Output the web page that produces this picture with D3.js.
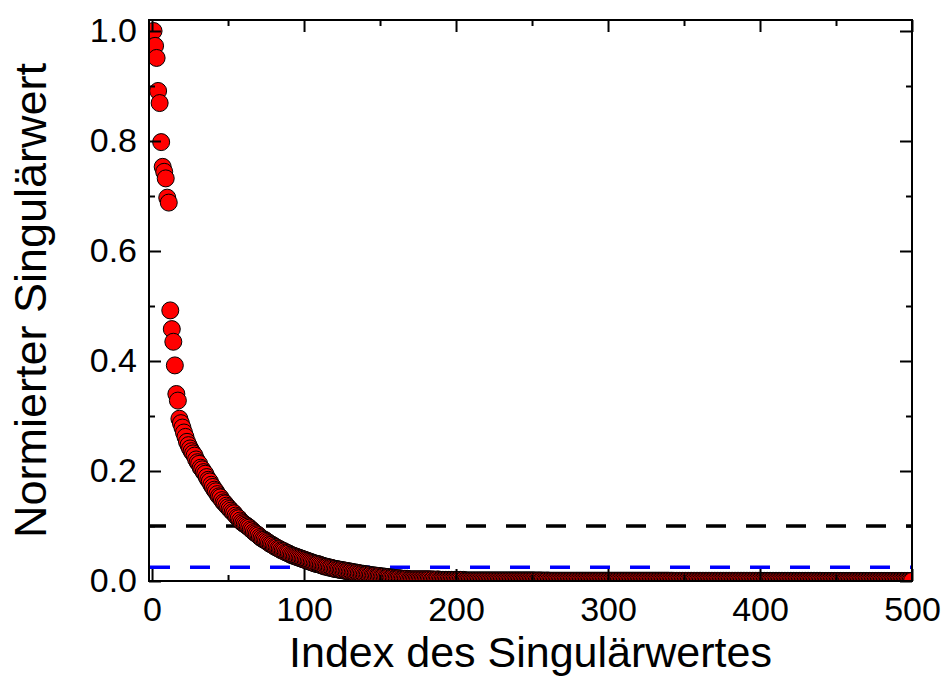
<!DOCTYPE html>
<html>
<head>
<meta charset="utf-8">
<script src="https://cdn.jsdelivr.net/npm/d3@7"></script>
<style>
  body { margin: 0; background: #fff; }
  text { font-family: "Liberation Sans", Arial, sans-serif; fill: #000; }
</style>
</head>
<body>
<svg id="chart"></svg>
<script>
// normalized singular values, in thousandths, index 1..500
let headVals = [1000, 973, 951, 891, 869, 798, 753, 744, 732, 697, 688, 492, 458, 435, 392, 340, 328, 295, 287, 279];
let midVals1 = [270, 262, 253, 247, 241, 236, 232, 228, 221, 216,
    213, 206, 203, 198, 195, 189, 184, 181, 175, 171,
    166, 163, 158, 154, 152, 147, 143, 141, 137, 134,
    131, 128, 125, 123, 119, 116, 114, 110, 107, 105];
let midVals2 = [103, 101, 99, 97, 94, 92, 89, 87, 85, 83,
    80, 78, 76, 75, 73, 71, 69, 67, 66, 64,
    62, 61, 59, 58, 56, 55, 54, 52, 51, 50,
    48, 47, 46, 45, 44, 43, 42, 41, 40, 39,
    38, 37, 36, 35, 34, 33, 32, 31, 31, 30];
let midVals3 = [29, 28, 27, 26, 26, 25, 24, 24, 23, 22,
    22, 21, 21, 20, 20, 19, 19, 18, 18, 17,
    17, 16, 16, 15, 15, 14, 14, 13, 13, 12,
    12, 12, 11, 11, 10, 10, 10, 9, 9, 9,
    8, 8, 8, 7, 7, 7, 6, 6, 6, 5,
    5, 5, 5, 4, 4, 4, 4, 4, 3, 3];
let tailVals1 = [3, 3, 3, 3, 3, 3, 3, 3, 3, 3,
    3, 3, 3, 2, 3, 2, 2, 3, 2, 2,
    2, 2, 2, 2, 2, 2, 2, 2, 2, 2,
    2, 2, 2, 1, 2, 1, 1, 1, 1, 1];
let tailVals2 = [1, 1, 1, 1, 1, 1, 1, 1, 1, 1,
    1, 1, 1, 1, 1, 1, 1, 1, 1, 1,
    1, 1, 1, 1, 1, 1, 1, 1, 1, 1,
    1, 1, 1, 1, 1, 1, 1, 1, 1, 1,
    1, 1, 0.5, 1, 1, 0.5, 1, 0.5, 0.5, 1,
    0.5, 0.5, 0.5, 0.5, 0.5, 0.5, 0.5, 0.5, 0.5, 0.5,
    0.5, 0.5, 0.5, 0.5, 0.5, 0.5, 0.5, 0.5, 0.5, 0.5,
    0.5, 0.5, 0.5, 0.5, 0.5, 0.5, 0.5, 0.5, 0.5, 0.5,
    0.5, 0.5, 0.5, 0.5, 0.5, 0.5, 0.5, 0.5, 0.5, 0.5,
    0.5, 0.5, 0.5, 0.5, 0.5, 0.5, 0.5, 0.5, 0.5, 0.5];
let tailVals3 = [0.5, 0.5, 0.5, 0.5, 0.5, 0.5, 0.5, 0.5, 0.5, 0.5,
    0.5, 0.5, 0.5, 0.5, 0.5, 0.5, 0.5, 0.5, 0.5, 0.5,
    0.5, 0.5, 0.5, 0.5, 0.5, 0.5, 0.5, 0.5, 0.5, 0.5,
    0.3, 0.5, 0.3, 0.3, 0.3, 0.3, 0.3, 0.3, 0.3, 0.3,
    0.3, 0.3, 0.3, 0.3, 0.3, 0.3, 0.3, 0.3, 0.3, 0.3,
    0.3, 0.3, 0.3, 0.3, 0.3, 0.3, 0.3, 0.3, 0.3, 0.3,
    0.3, 0.3, 0.3, 0.3, 0.3, 0.3, 0.3, 0.3, 0.3, 0.3,
    0.3, 0.3, 0.3, 0.3, 0.3, 0.3, 0.3, 0.3, 0.3, 0.3,
    0.3, 0.3, 0.3, 0.3, 0.3, 0.3, 0.3, 0.3, 0.3, 0.3,
    0.2, 0.2, 0.2, 0.2, 0.2, 0.2, 0.2, 0.2, 0.2, 0.2];
let tailVals4 = [0.2, 0.2, 0.2, 0.2, 0.2, 0.2, 0.2, 0.2, 0.2, 0.2,
    0.2, 0.2, 0.2, 0.2, 0.2, 0.2, 0.2, 0.2, 0.2, 0.2,
    0.2, 0.2, 0.2, 0.2, 0.2, 0.2, 0.2, 0.2, 0.2, 0.2,
    0.1, 0.1, 0.1, 0.1, 0.1, 0.1, 0.1, 0.1, 0.1, 0.1,
    0.1, 0.1, 0.1, 0.1, 0.1, 0.1, 0.1, 0.1, 0.1, 0.1,
    0.1, 0.1, 0.1, 0.1, 0.1, 0.1, 0.1, 0.1, 0.1, 0.1,
    0.1, 0.1, 0.1, 0.1, 0.1, 0.1, 0.1, 0.1, 0.1, 0.1,
    0.1, 0.1, 0.1, 0.1, 0.1, 0.1, 0.1, 0.1, 0.1, 0.1,
    0.1, 0.1, 0.1, 0.1, 0.1, 0.1, 0.1, 0.1, 0.1, 0.1];

// threshold lines
let thresholds = [{ value: 0.1, color: "#000000", offset: 3 }, { value: 0.025, color: "#0000ff", offset: 39 }];

let xMajor = [0, 100, 200, 300, 400, 500];
let xMinor = [50, 150, 250, 350, 450];
let yMajor = [0, 0.2, 0.4, 0.6, 0.8, 1.0];
let yMinor = [0.1, 0.3, 0.5, 0.7, 0.9];

let allVals = [].concat(headVals, midVals1, midVals2, midVals3, tailVals1, tailVals2, tailVals3, tailVals4);
let points = allVals.map(function (v, i) { return { index: i + 1, value: v / 1000 }; });

let width = 944, height = 689;
let margin = { left: 149, right: 32, top: 20, bottom: 108 };

let svg = d3.select("#chart").attr("width", width).attr("height", height);

let x = d3.scaleLinear().domain([-2, 500]).range([margin.left, width - margin.right]);
let y = d3.scaleLinear().domain([0, 1.02]).range([height - margin.bottom, margin.top]);

let x0 = x.range()[0], x1 = x.range()[1];
let yBottom = y.range()[0], yTop = y.range()[1];

svg.append("clipPath").attr("id", "plotClip")
    .append("rect")
    .attr("x", x0).attr("y", yTop)
    .attr("width", x1 - x0).attr("height", yBottom - yTop);

// dashed threshold lines
svg.append("g").attr("clip-path", "url(#plotClip)")
    .selectAll("line").data(thresholds).enter()
    .append("line")
    .attr("x1", x0).attr("x2", x1)
    .attr("y1", function (d) { return y(d.value); })
    .attr("y2", function (d) { return y(d.value); })
    .attr("stroke", function (d) { return d.color; })
    .attr("stroke-width", 3.5)
    .attr("stroke-dasharray", "20,20")
    .attr("stroke-dashoffset", function (d) { return d.offset; });

// markers
svg.append("g").attr("clip-path", "url(#plotClip)")
    .selectAll("circle").data(points).enter()
    .append("circle")
    .attr("cx", function (d) { return x(d.index); })
    .attr("cy", function (d) { return y(d.value); })
    .attr("r", 8.5)
    .attr("fill", "#ff0000")
    .attr("stroke", "#000")
    .attr("stroke-width", 1);

// axes, ticks inward on all four sides
function styleAxis(g) {
    g.select(".domain").remove();
    g.selectAll(".tick line").attr("stroke", "#000").attr("stroke-width", 2);
    g.selectAll("text").style("font-size", "34px").attr("fill", "#000");
}

svg.append("g").attr("transform", "translate(0," + yBottom + ")")
    .call(d3.axisBottom(x).tickValues(xMajor).tickSize(-12).tickPadding(16).tickFormat(d3.format("d")))
    .call(styleAxis);
svg.append("g").attr("transform", "translate(0," + yBottom + ")")
    .call(d3.axisBottom(x).tickValues(xMinor).tickSize(-6).tickFormat(""))
    .call(styleAxis);
svg.append("g").attr("transform", "translate(0," + yTop + ")")
    .call(d3.axisTop(x).tickValues(xMajor).tickSize(-12).tickFormat(""))
    .call(styleAxis);
svg.append("g").attr("transform", "translate(0," + yTop + ")")
    .call(d3.axisTop(x).tickValues(xMinor).tickSize(-6).tickFormat(""))
    .call(styleAxis);

svg.append("g").attr("transform", "translate(" + x0 + ",0)")
    .call(d3.axisLeft(y).tickValues(yMajor).tickSize(-12).tickPadding(12).tickFormat(d3.format(".1f")))
    .call(styleAxis);
svg.append("g").attr("transform", "translate(" + x0 + ",0)")
    .call(d3.axisLeft(y).tickValues(yMinor).tickSize(-6).tickFormat(""))
    .call(styleAxis);
svg.append("g").attr("transform", "translate(" + x1 + ",0)")
    .call(d3.axisRight(y).tickValues(yMajor).tickSize(-12).tickFormat(""))
    .call(styleAxis);
svg.append("g").attr("transform", "translate(" + x1 + ",0)")
    .call(d3.axisRight(y).tickValues(yMinor).tickSize(-6).tickFormat(""))
    .call(styleAxis);

// frame
svg.append("rect")
    .attr("x", x0).attr("y", yTop)
    .attr("width", x1 - x0).attr("height", yBottom - yTop)
    .attr("fill", "none").attr("stroke", "#000").attr("stroke-width", 2);

// axis titles
svg.append("text")
    .attr("x", (x0 + x1) / 2).attr("y", 667)
    .attr("text-anchor", "middle")
    .style("font-size", "43px")
    .text("Index des Singulärwertes");

svg.append("text")
    .attr("transform", "translate(46," + (yTop + yBottom) / 2 + ") rotate(-90)")
    .attr("text-anchor", "middle")
    .style("font-size", "45px")
    .text("Normierter Singulärwert");
</script>
</body>
</html>
